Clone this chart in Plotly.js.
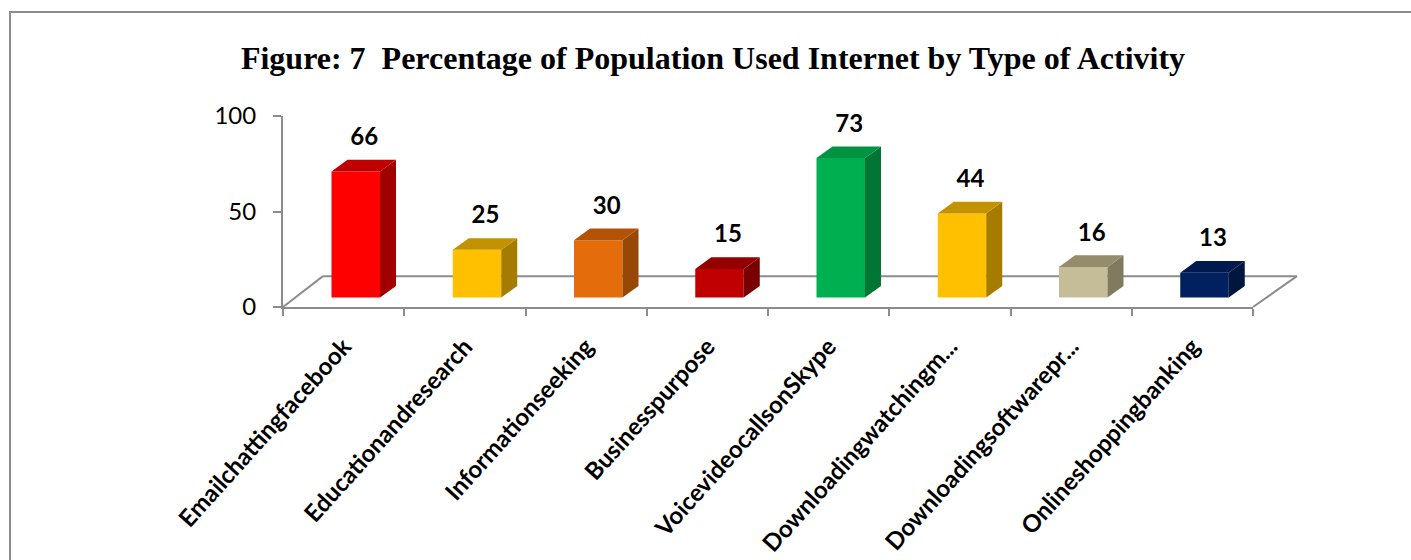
<!DOCTYPE html>
<html>
<head>
<meta charset="utf-8">
<script src="https://cdn.plot.ly/plotly-3.0.1.min.js"></script>
<style>
  html, body { margin: 0; padding: 0; background: #ffffff; }
  #chart { width: 1411px; height: 560px; }
</style>
</head>
<body>
<div id="chart"></div>
<script>
// ---- data ----
var categories = [
  "Emailchattingfacebook",
  "Educationandresearch",
  "Informationseeking",
  "Businesspurpose",
  "VoicevideocallsonSkype",
  "Downloadingwatchingm...",
  "Downloadingsoftwarepr...",
  "Onlineshoppingbanking"
];
var values = [66, 25, 30, 15, 73, 44, 16, 13];
var frontColors = ["#FF0000", "#FFC000", "#E46C0A", "#C00000", "#00B050", "#FFC000", "#C4BD97", "#002060"];
var topColors   = ["#C00000", "#C39200", "#B25308", "#940000", "#009342", "#C39200", "#958C6C", "#001A4E"];
var sideColors  = ["#A00000", "#A67C00", "#974806", "#780000", "#007534", "#A67C00", "#807A5E", "#00163F"];
var yTickVals = [0, 50, 100];

// ---- styling constants (3D look) ----
var W = 0.2;        // half bar width (category units)
var XOFF = 0.1;     // bars sit mid-depth: shift right (category units)
var YOFF = 4.95;    // ... and up (value units)
var DX = 0.132;     // depth x (category units)
var DY = 6.1;       // depth y (value units)
var LABEL_DX = 0.07, LABEL_DY = 17;
var gray = "#8C8C8C";

var idx = values.map(function (v, i) { return i; });
var traces = [];

// front faces
traces.push({
  type: "bar", x: idx.map(function (i) { return i + XOFF; }), y: values, base: YOFF, width: 2 * W,
  marker: { color: frontColors, line: { width: 0 } },
  hoverinfo: "skip", showlegend: false
});

// side and top faces
values.forEach(function (v, i) {
  var c = i + XOFF, b = YOFF;
  traces.push({
    type: "scatter", mode: "lines", fill: "toself",
    x: [c + W, c + W + DX, c + W + DX, c + W, c + W],
    y: [b, b + DY, b + v + DY, b + v, b],
    line: { width: 0, color: sideColors[i] }, fillcolor: sideColors[i],
    hoverinfo: "skip", showlegend: false, cliponaxis: false
  });
  traces.push({
    type: "scatter", mode: "lines", fill: "toself",
    x: [c - W, c - W + DX, c + W + DX, c + W, c - W],
    y: [b + v, b + v + DY, b + v + DY, b + v, b + v],
    line: { width: 0, color: topColors[i] }, fillcolor: topColors[i],
    hoverinfo: "skip", showlegend: false, cliponaxis: false
  });
});

// data labels
traces.push({
  type: "scatter", mode: "text",
  x: idx.map(function (i) { return i + XOFF + LABEL_DX; }),
  y: values.map(function (v) { return YOFF + v + LABEL_DY; }),
  text: values.map(function (v) { return "<b>" + v + "</b>"; }),
  textposition: "middle center",
  textfont: { family: "Lato", size: 24, color: "#000000" },
  hoverinfo: "skip", showlegend: false, cliponaxis: false
});

var boundaries = [];
for (var k = 0; k <= categories.length; k++) boundaries.push(k - 0.5);

var plotL = 283, plotR = 1253, plotT = 115.5, plotB = 307.5;
var plotW = plotR - plotL, plotH = plotB - plotT;
function px(x) { return (x - plotL) / plotW; }
function py(y) { return (plotB - y) / plotH; }

var layout = {
  width: 1411, height: 560,
  margin: { l: plotL, r: 1411 - plotR, t: plotT, b: 560 - plotB, pad: 0 },
  paper_bgcolor: "#ffffff", plot_bgcolor: "rgba(0,0,0,0)",
  showlegend: false, hovermode: false,
  title: {
    text: "<b>Figure: 7  Percentage of Population Used Internet by Type of Activity</b>",
    font: { family: "Liberation Serif", size: 32, color: "#000000" },
    x: 713 / 1411, xanchor: "center",
    y: 1 - 58 / 560, yanchor: "middle"
  },
  xaxis: {
    type: "linear",
    range: [-0.5, categories.length - 0.5],
    tickmode: "array", tickvals: idx,
    ticktext: categories.map(function (c) { return "<b>" + c + "</b>"; }),
    ticks: "", showline: true, linecolor: gray, linewidth: 2,
    showgrid: false, zeroline: false,
    tickangle: -48,
    ticklabelstandoff: 14,
    tickfont: { family: "Lato", size: 24, color: "#000000" },
    minor: { tickmode: "array", tickvals: boundaries, ticks: "outside", ticklen: 7, tickwidth: 2, tickcolor: gray, showgrid: false },
    fixedrange: true
  },
  yaxis: {
    type: "linear",
    range: [0, 100], tickmode: "array", tickvals: yTickVals,
    ticks: "outside", ticklen: 8, tickwidth: 2, tickcolor: gray,
    showline: true, linecolor: gray, linewidth: 2,
    showgrid: false, zeroline: false,
    ticklabelstandoff: 12,
    tickfont: { family: "Lato", size: 24, color: "#000000" },
    fixedrange: true
  },
  shapes: [
    { type: "rect", xref: "paper", yref: "paper",
      x0: px(10), x1: px(1430), y0: py(11), y1: py(600),
      line: { color: gray, width: 2 }, fillcolor: "rgba(0,0,0,0)", layer: "below" },
    { type: "line", xref: "paper", yref: "paper",
      x0: px(323), x1: px(1297), y0: py(276.5), y1: py(276.5),
      line: { color: gray, width: 2 }, layer: "below" },
    { type: "line", xref: "paper", yref: "paper",
      x0: px(283), x1: px(323), y0: py(307.5), y1: py(276.5),
      line: { color: gray, width: 2 }, layer: "below" },
    { type: "line", xref: "paper", yref: "paper",
      x0: px(1253), x1: px(1297), y0: py(307.5), y1: py(276.5),
      line: { color: gray, width: 2 }, layer: "below" }
  ]
};

Plotly.newPlot("chart", traces, layout, { staticPlot: true, displayModeBar: false });
</script>
</body>
</html>
